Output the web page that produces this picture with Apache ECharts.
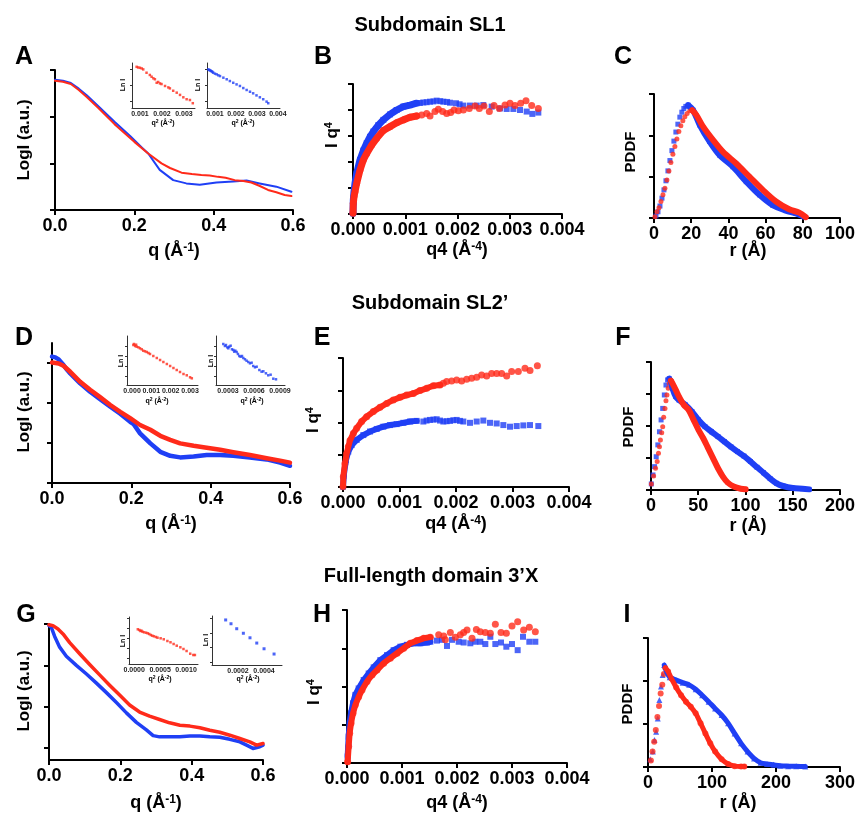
<!DOCTYPE html>
<html><head><meta charset="utf-8">
<script src="https://cdn.jsdelivr.net/npm/echarts@6/dist/echarts.min.js"></script>
<style>html,body{margin:0;padding:0;background:#fff}#c{width:858px;height:814px}</style>
</head><body><div id="c"></div>
<script>
// ---------- Panel A (SL1 scattering curves) ----------
const aRed = [[0,2.77],[0.02,2.75],[0.04,2.70],[0.06,2.57],[0.08,2.42],[0.11,2.18],[0.15,1.84],[0.20,1.46],[0.235,1.21],[0.2685,1.00],[0.29,0.90],[0.319,0.80],[0.345,0.77],[0.369,0.75],[0.39,0.74],[0.411,0.71],[0.43,0.69],[0.453,0.64],[0.475,0.62],[0.495,0.59],[0.515,0.52],[0.537,0.43],[0.558,0.38],[0.579,0.32],[0.596,0.30]];
const aBlue = [[0,2.79],[0.02,2.77],[0.04,2.72],[0.06,2.60],[0.08,2.46],[0.11,2.22],[0.15,1.89],[0.19,1.58],[0.22,1.33],[0.235,1.21],[0.264,0.86],[0.298,0.64],[0.331,0.57],[0.365,0.54],[0.407,0.59],[0.449,0.61],[0.483,0.63],[0.516,0.57],[0.558,0.50],[0.596,0.39]];
const aInsetRed = [[0.00085,2.14],[0.00092,2.10],[0.00100,2.08],[0.00108,2.04],[0.00115,1.98],[0.00130,1.77],[0.00145,1.63],[0.00153,1.52],[0.00161,1.42],[0.00168,1.36],[0.00176,1.14],[0.00183,1.19],[0.00191,1.10],[0.00198,1.06],[0.00214,0.94],[0.00229,0.85],[0.00236,0.79],[0.00251,0.64],[0.00267,0.52],[0.00282,0.38],[0.00297,0.23],[0.00312,0.11],[0.00327,0.06],[0.00340,-0.14]];
const aInsetBlue = [[0.00068,1.98],[0.00072,1.95],[0.00076,1.92],[0.0008,1.89],[0.00084,1.86],[0.00088,1.82],[0.00092,1.77],[0.001,1.71],[0.00108,1.67],[0.00116,1.61],[0.00124,1.56],[0.0014,1.46],[0.00156,1.36],[0.00171,1.25],[0.00187,1.14],[0.00203,1.04],[0.00219,0.94],[0.00235,0.81],[0.00251,0.69],[0.00267,0.58],[0.00282,0.48],[0.00298,0.35],[0.00314,0.23],[0.0033,0.11],[0.00346,-0.04],[0.00354,-0.14]];

// ---------- Panel B (SL1 Porod) ----------
const bBlueDense = [[0,0.03],[0.000006,0.54],[0.000019,0.86],[0.000038,1.18],[0.00007,1.56],[0.000134,2.08],[0.000198,2.44],[0.000262,2.72],[0.000325,2.97],[0.000389,3.17],[0.000485,3.42],[0.000581,3.62],[0.000708,3.83],[0.000836,4.0],[0.000963,4.13],[0.001091,4.19],[0.001219,4.26]];
const bBlueSparse = [[0.00128,4.27],[0.001346,4.29],[0.00141,4.30],[0.001474,4.32],[0.00154,4.33],[0.001601,4.36],[0.00167,4.34],[0.001729,4.32],[0.0018,4.31],[0.001856,4.28],[0.001971,4.26],[0.00204,4.22],[0.002112,4.17],[0.002239,4.17],[0.002367,4.17],[0.002494,4.19],[0.002654,4.13],[0.002813,4.06],[0.002941,4.04],[0.003069,4.04],[0.003196,4.0],[0.003324,3.94],[0.003432,3.85],[0.003547,3.9]];
const bRedDense = [[0,0.03],[0.000006,0.41],[0.000019,0.67],[0.000038,0.86],[0.00007,1.18],[0.000134,1.69],[0.000198,2.08],[0.000262,2.33],[0.000357,2.65],[0.000453,2.91],[0.000581,3.21],[0.000708,3.36],[0.000836,3.51],[0.000963,3.62],[0.001091,3.72],[0.001219,3.77]];
const bRedSparse = [[0.001314,3.81],[0.00141,3.87],[0.001474,3.77],[0.001569,3.94],[0.001633,4.03],[0.001716,3.94],[0.001793,3.87],[0.001869,3.9],[0.001933,4.0],[0.002016,3.97],[0.002112,4.0],[0.002226,4.06],[0.002335,4.15],[0.002418,4.06],[0.002507,4.15],[0.002609,3.94],[0.002699,4.17],[0.002801,4.06],[0.002909,4.19],[0.003005,4.26],[0.0031,4.17],[0.003209,4.26],[0.003311,4.36],[0.00342,4.17],[0.003547,4.06]];

// ---------- Panel C (SL1 PDDF) ----------
const cBlueRise = [[1.07,0.05],[2.14,0.15],[3.21,0.29],[4.28,0.48],[5.35,0.68],[6.42,0.9],[7.49,1.14],[8.56,1.39],[9.63,1.63],[10.7,1.86],[11.76,2.08],[12.83,2.27],[13.9,2.44],[14.97,2.56],[16.04,2.65],[17.11,2.70]];
const cBlueFall = [[18.36,2.73],[21.0,2.61],[24.6,2.25],[29.9,1.85],[35.3,1.52],[42.4,1.24],[49.6,0.88],[56.7,0.56],[63.8,0.31],[70.9,0.18],[76.3,0.11],[80.7,0.03]];
const cRedRise = [[0.53,0.03],[1.6,0.15],[2.67,0.25],[3.74,0.40],[4.81,0.56],[5.88,0.72],[6.95,0.92],[8.02,1.14],[9.09,1.34],[10.16,1.54],[11.23,1.73],[12.3,1.91],[13.37,2.09],[14.44,2.23],[15.51,2.35],[16.58,2.45],[17.83,2.53],[19.25,2.60]];
const cRedFall = [[20.5,2.61],[22.8,2.49],[26.4,2.21],[31.7,1.89],[37.1,1.60],[44.2,1.32],[51.3,1.0],[58.5,0.68],[65.6,0.40],[72.7,0.21],[78.1,0.13],[81.6,0.02]];

// ---------- Panel D (SL2' scattering curves) ----------
const dBlue = [[0,3.16],[0.0084,3.14],[0.0168,3.09],[0.029,2.95],[0.038,2.83],[0.046,2.74],[0.071,2.49],[0.096,2.28],[0.122,2.09],[0.147,1.91],[0.172,1.73],[0.197,1.53],[0.206,1.47],[0.222,1.24],[0.248,0.99],[0.273,0.78],[0.298,0.68],[0.323,0.64],[0.357,0.66],[0.39,0.70],[0.424,0.70],[0.457,0.68],[0.499,0.64],[0.541,0.59],[0.575,0.51],[0.6,0.43]];
const dRed = [[0,3.01],[0.0168,2.99],[0.029,2.93],[0.046,2.78],[0.071,2.53],[0.096,2.33],[0.122,2.14],[0.147,1.95],[0.172,1.78],[0.197,1.62],[0.222,1.45],[0.248,1.33],[0.273,1.18],[0.298,1.08],[0.323,0.99],[0.357,0.93],[0.39,0.88],[0.424,0.83],[0.457,0.77],[0.499,0.70],[0.541,0.62],[0.575,0.56],[0.6,0.51]];
const dInsetRed = [[0.00007,3.1],[0.0001,3.2],[0.00016,3.0],[0.00021,3.13],[0.00024,2.93],[0.00033,2.87],[0.00041,2.77],[0.0005,2.67],[0.00058,2.53],[0.00067,2.47],[0.00076,2.4],[0.00085,2.3],[0.00093,2.2],[0.0011,2.0],[0.00128,1.8],[0.00145,1.6],[0.00162,1.4],[0.0018,1.2],[0.00197,1.0],[0.00214,0.8],[0.00231,0.6],[0.00248,0.4],[0.00266,0.2],[0.00283,0.07],[0.003,-0.13],[0.00309,-0.23]];
const dInsetBlue = [[0.000246,3.2],[0.000265,3.0],[0.000277,3.1],[0.000292,2.87],[0.000304,2.77],[0.000315,2.93],[0.000331,3.03],[0.000346,2.67],[0.000362,2.6],[0.000373,2.43],[0.000385,2.53],[0.0004,2.4],[0.000415,2.2],[0.000431,2.0],[0.000446,1.93],[0.000462,2.0],[0.000477,1.8],[0.000496,1.67],[0.000515,1.53],[0.000535,1.4],[0.000554,1.27],[0.000573,1.33],[0.000592,1.0],[0.000612,0.87],[0.000631,0.93],[0.000662,0.6],[0.000688,0.43],[0.000708,0.47],[0.000738,0.27],[0.000765,0.07],[0.000792,0.13],[0.000823,-0.27],[0.000854,-0.33]];

// ---------- Panel E (SL2' Porod) ----------
const eRedDense = [[0,0.01],[0.000006,0.32],[0.000035,0.73],[0.000065,1.04],[0.000094,1.25],[0.000124,1.44],[0.000183,1.66],[0.000242,1.82],[0.00033,2.03],[0.000419,2.18],[0.000537,2.34],[0.000655,2.47],[0.000773,2.59],[0.000891,2.70],[0.001009,2.78],[0.001127,2.85],[0.001245,2.90],[0.001363,2.99],[0.001481,3.06],[0.001599,3.14],[0.001717,3.16]];
const eRedSparse = [[0.001776,3.22],[0.001835,3.27],[0.001923,3.29],[0.002012,3.32],[0.0021,3.29],[0.002189,3.34],[0.002277,3.37],[0.002366,3.40],[0.002454,3.47],[0.002543,3.44],[0.002631,3.52],[0.00272,3.52],[0.002808,3.52],[0.002897,3.44],[0.002985,3.58],[0.003103,3.58],[0.003221,3.68],[0.00331,3.61],[0.00344,3.76]];
const eBlueDense = [[0,0.01],[0.000018,0.42],[0.000053,0.84],[0.000094,1.10],[0.000153,1.30],[0.000242,1.46],[0.00036,1.61],[0.000478,1.72],[0.000596,1.80],[0.000714,1.87],[0.000832,1.92],[0.00095,1.95],[0.001068,1.99],[0.001186,2.03],[0.001304,2.05]];
const eBlueSparse = [[0.001422,2.03],[0.00148,2.06],[0.00154,2.08],[0.0016,2.09],[0.001658,2.10],[0.001717,2.06],[0.001776,2.03],[0.001835,2.04],[0.001894,2.05],[0.001953,2.07],[0.002012,2.08],[0.00207,2.05],[0.00213,2.03],[0.002248,1.99],[0.002366,2.03],[0.002484,2.06],[0.002602,1.99],[0.00272,1.97],[0.002838,1.92],[0.002956,1.87],[0.003074,1.89],[0.003192,1.91],[0.00331,1.92],[0.003457,1.89]];

// ---------- Panel F (SL2' PDDF) ----------
const fBlueRise = [[0.34,0.19],[2.07,0.47],[3.79,0.73],[5.51,1.04],[7.23,1.41],[8.95,1.82],[10.67,2.19],[12.39,2.55],[14.11,2.97],[15.83,3.28],[17.55,3.44]];
const fBlueFall = [[19.28,3.48],[21.0,3.39],[22.72,3.18],[26.16,2.92],[29.6,2.81],[36.49,2.66],[43.37,2.45],[50.25,2.19],[57.14,1.98],[64.02,1.82],[70.91,1.67],[77.79,1.51],[84.67,1.35],[91.56,1.2],[98.44,1.06],[105.33,0.89],[112.21,0.71],[119.09,0.54],[125.98,0.36],[132.86,0.21],[139.75,0.125],[150.07,0.06],[160.4,0.04],[167.28,0.02]];
const fRedRise = [[0.34,0.19],[2.75,0.44],[4.82,0.68],[6.54,0.89],[7.92,1.15],[8.95,1.35],[9.98,1.56],[11.36,1.79],[12.39,1.98],[13.42,2.27],[14.8,2.55],[15.83,2.79],[16.87,2.97],[18.24,3.18],[19.28,3.33]];
const fRedFall = [[21.0,3.42],[22.72,3.33],[26.16,3.13],[29.6,2.92],[34.76,2.66],[39.93,2.5],[45.09,2.19],[50.25,1.88],[55.42,1.61],[60.58,1.3],[65.74,0.99],[70.91,0.68],[76.07,0.42],[81.23,0.23],[88.12,0.10],[95.0,0.04],[100.16,0.02]];

// ---------- Panel G (3'X scattering curves) ----------
const gRed = [[0,2.98],[0.0112,2.96],[0.0252,2.88],[0.0393,2.76],[0.058,2.55],[0.086,2.28],[0.114,2.02],[0.142,1.77],[0.17,1.52],[0.198,1.28],[0.226,1.04],[0.254,0.87],[0.282,0.77],[0.31,0.69],[0.338,0.61],[0.367,0.55],[0.395,0.53],[0.423,0.49],[0.451,0.43],[0.479,0.38],[0.507,0.31],[0.535,0.23],[0.563,0.15],[0.582,0.07],[0.6,0.11]];
const gBlue = [[0,2.96],[0.0065,2.92],[0.0159,2.70],[0.0299,2.44],[0.0486,2.22],[0.0767,2.00],[0.105,1.79],[0.133,1.57],[0.161,1.34],[0.189,1.10],[0.217,0.85],[0.245,0.62],[0.273,0.44],[0.292,0.30],[0.31,0.27],[0.338,0.27],[0.367,0.27],[0.395,0.29],[0.423,0.29],[0.451,0.27],[0.479,0.26],[0.507,0.21],[0.535,0.15],[0.554,0.07],[0.572,-0.01],[0.591,0.03],[0.6,0.07]];
const gInsetRed = [[0.00007,2.87],[0.0001,2.8],[0.00012,2.7],[0.00014,2.73],[0.00016,2.63],[0.00019,2.57],[0.00023,2.53],[0.00026,2.47],[0.00029,2.4],[0.00032,2.3],[0.00035,2.23],[0.00038,2.17],[0.00042,2.1],[0.00045,2.03],[0.00051,1.97],[0.00057,1.87],[0.00064,1.7],[0.0007,1.57],[0.00076,1.4],[0.00082,1.23],[0.00089,1.07],[0.00095,0.9],[0.00101,0.7],[0.00108,0.43],[0.00114,0.3],[0.00117,0.3]];
const gInsetBlue = [[0.000105,2.88],[0.000146,2.62],[0.00019,2.28],[0.000241,1.97],[0.000292,1.66],[0.000344,1.30],[0.0004,0.91],[0.000477,0.55]];

// ---------- Panel H (3'X Porod) ----------
const hRedDense = [[0.000012,0.03],[0.00003,0.43],[0.000048,0.78],[0.000073,1.04],[0.000109,1.30],[0.000152,1.52],[0.000212,1.73],[0.000273,1.91],[0.000364,2.13],[0.000455,2.30],[0.000545,2.43],[0.000667,2.61],[0.000788,2.74],[0.000909,2.87],[0.00103,3.0],[0.001152,3.13],[0.001273,3.20],[0.001394,3.26],[0.001515,3.29]];
const hRedSparse = [[0.001667,3.35],[0.001758,3.32],[0.001788,3.22],[0.001879,3.41],[0.00197,3.29],[0.00206,3.35],[0.002121,3.41],[0.002182,3.48],[0.002273,3.26],[0.002352,3.49],[0.002424,3.43],[0.002515,3.41],[0.002606,3.39],[0.002697,3.63],[0.0028,3.41],[0.002897,3.39],[0.003,3.58],[0.003103,3.69],[0.003212,3.48],[0.003315,3.55],[0.003424,3.43]];
const hBlueDense = [[0.000012,0.17],[0.00003,0.69],[0.000048,1.04],[0.000073,1.30],[0.000109,1.56],[0.000152,1.78],[0.000212,1.95],[0.000303,2.17],[0.000394,2.34],[0.000485,2.50],[0.000606,2.69],[0.000727,2.82],[0.000848,2.95],[0.00097,3.04],[0.001091,3.09],[0.001212,3.13],[0.001333,3.13],[0.001455,3.15],[0.001515,3.17]];
const hBlueSparse = [[0.001636,3.2],[0.001727,3.22],[0.001818,3.06],[0.001909,3.22],[0.00203,3.17],[0.002121,3.15],[0.002242,3.13],[0.002333,3.17],[0.002424,3.17],[0.002515,3.11],[0.002606,3.3],[0.002697,3.11],[0.0028,3.15],[0.002897,3.04],[0.003,3.11],[0.003103,2.95],[0.0032,3.3],[0.003315,3.17],[0.003424,3.17]];

// ---------- Panel I (3'X PDDF) ----------
const iBlueRise = [[3.55,0.18],[7.6,0.36],[10.14,0.63],[12.67,0.82],[15.2,1.13],[17.74,1.56],[20.27,1.87],[22.81,2.14]];
const iBlueFall = [[25.34,2.37],[28.89,2.22],[33.96,2.09],[44.09,2.02],[54.23,1.96],[64.36,1.91],[74.5,1.81],[84.64,1.67],[94.77,1.52],[104.9,1.36],[115.04,1.21],[125.18,1.02],[135.32,0.78],[145.45,0.55],[155.59,0.36],[165.72,0.2],[175.86,0.1],[186.0,0.07],[196.13,0.05],[206.27,0.03],[218.94,0.02],[231.6,0.015],[245.8,0.01]];
const iRedRise = [[4.56,0.15],[7.1,0.36],[9.63,0.59],[12.16,0.86],[14.7,1.16],[17.23,1.42],[19.77,1.71],[22.3,1.91],[24.83,2.16]];
const iRedFall = [[26.86,2.31],[31.42,2.22],[36.49,2.06],[44.09,1.85],[51.69,1.67],[59.3,1.52],[66.9,1.40],[74.5,1.25],[82.1,1.02],[89.7,0.78],[97.31,0.55],[104.9,0.36],[115.04,0.18],[125.18,0.07],[135.32,0.02],[145.45,0.01],[150.52,0.01]];

const RED = '#ff2a1a', BLUE = '#1f3ff5';
const FONT = '"Liberation Sans", Arial, Helvetica, sans-serif';
const grid = [], xAxis = [], yAxis = [], series = [], graphic = [];

function addPanel(rect, xa, ya) {
  const i = grid.length;
  grid.push(Object.assign({ containLabel: false }, rect));
  xAxis.push(Object.assign({ gridIndex: i, type: 'value' }, xa));
  yAxis.push(Object.assign({ gridIndex: i, type: 'value' }, ya));
  return i;
}
const mainLine = { show: true, onZero: false, lineStyle: { color: '#000', width: 2 } };
function mainX(min, max, interval, dec) {
  return { min, max, interval, axisLine: mainLine,
    axisTick: { show: true, length: 5, lineStyle: { width: 2, color: '#000' } },
    axisLabel: { show: true, formatter: v => v.toFixed(dec), fontSize: 18, fontWeight: 'bold', color: '#000', fontFamily: FONT, margin: 7, showMinLabel: true, showMaxLabel: true, interval: 0, hideOverlap: false },
    splitLine: { show: false } };
}
function mainY(min, max, ticks) {
  return { min, max, axisLine: mainLine,
    axisTick: { show: true, length: 5, customValues: ticks, lineStyle: { width: 2, color: '#000' } },
    axisLabel: { show: false }, splitLine: { show: false } };
}
const insetLine = { show: true, onZero: false, lineStyle: { color: '#333', width: 1 } };
function insetX(min, max, labels, dec) {
  return { min, max, axisLine: insetLine, axisTick: { show: false },
    axisLabel: { customValues: labels, formatter: v => v.toFixed(dec), fontSize: 7, fontWeight: 'bold', color: '#222', margin: 3, fontFamily: FONT },
    splitLine: { show: false } };
}
function insetY(min, max, ticks) {
  return { min, max, axisLine: insetLine,
    axisTick: { show: true, length: 2, customValues: ticks, lineStyle: { color: '#333', width: 1 } },
    axisLabel: { show: false }, splitLine: { show: false } };
}
function band(i, data, color, width, smooth) {
  series.push({ type: 'line', xAxisIndex: i, yAxisIndex: i, data, symbol: 'none', smooth: smooth || false,
    lineStyle: { color, width, cap: 'round', join: 'round' }, silent: true });
}
function dots(i, data, color, symbol, size) {
  series.push({ type: 'scatter', xAxisIndex: i, yAxisIndex: i, data, symbol, symbolSize: size, itemStyle: { color }, silent: true });
}

// Main panels
const pA = addPanel({ left: 55, top: 70, width: 238, height: 140 }, mainX(0, 0.6, 0.2, 1), mainY(0, 3, [0, 1, 2, 3]));
const pB = addPanel({ left: 353, top: 84, width: 209, height: 130 }, mainX(0, 0.004, 0.001, 3), mainY(0, 5, [0, 1, 2, 3, 4, 5]));
const pC = addPanel({ left: 654, top: 94, width: 187, height: 124 }, mainX(0, 100, 20, 0), mainY(0, 3, [0, 1, 2, 3]));
const pD = addPanel({ left: 52, top: 343, width: 238, height: 140 }, mainX(0, 0.6, 0.2, 1), mainY(0, 3.5, [0, 1, 2, 3]));
const pE = addPanel({ left: 343, top: 358, width: 226, height: 129 }, mainX(0, 0.004, 0.001, 3), mainY(0, 4, [0, 1, 2, 3, 4]));
const pF = addPanel({ left: 651, top: 362, width: 194, height: 128 }, mainX(0, 200, 50, 0), mainY(0, 4, [0, 1, 2, 3, 4]));
const pG = addPanel({ left: 49, top: 624, width: 214, height: 136 }, mainX(0, 0.6, 0.2, 1), mainY(-0.29, 3, [0, 1, 2, 3]));
const pH = addPanel({ left: 347, top: 610, width: 220, height: 153 }, mainX(0, 0.004, 0.001, 3), mainY(0, 4, [0, 1, 2, 3, 4]));
const pI = addPanel({ left: 648, top: 638, width: 197, height: 129 }, mainX(0, 300, 100, 0), mainY(0, 3, [0, 1, 2, 3]));
// Insets
const iA1 = addPanel({ left: 132, top: 63, width: 63, height: 45 }, insetX(0.00064, 0.0035, [0.001, 0.002, 0.003], 3), insetY(-0.44, 2.38, [0, 1, 2]));
const iA2 = addPanel({ left: 207, top: 63, width: 73, height: 45 }, insetX(0.00062, 0.0041, [0.001, 0.002, 0.003, 0.004], 3), insetY(-0.44, 2.38, [0, 1, 2]));
const iD1 = addPanel({ left: 127, top: 336, width: 71, height: 49 }, insetX(-0.00026, 0.00341, [0, 0.001, 0.002, 0.003], 3), insetY(-0.9, 4, [0, 1, 2, 3]));
const iD2 = addPanel({ left: 216, top: 336, width: 69, height: 49 }, insetX(0.000162, 0.000958, [0.0003, 0.0006, 0.0009], 4), insetY(-0.9, 4, [0, 1, 2, 3]));
const iG1 = addPanel({ left: 129, top: 617, width: 69, height: 47 }, insetX(-0.0001, 0.00123, [0, 0.0005, 0.001], 4), insetY(-0.6, 4.1, [0, 1, 2, 3, 4]));
const iG2 = addPanel({ left: 212, top: 616, width: 70, height: 49 }, insetX(0, 0.000538, [0.0002, 0.0004], 4), insetY(-0.2, 3.15, [0, 1, 2, 3]));

// Series
band(pA, aBlue, BLUE, 2); band(pA, aRed, RED, 2);
dots(iA1, aInsetRed, RED, 'rect', 2.5); dots(iA2, aInsetBlue, BLUE, 'rect', 2.5);

band(pB, bBlueDense, BLUE, 7); dots(pB, bBlueDense.concat(bBlueSparse), BLUE, 'rect', 6);
band(pB, bRedDense, RED, 7); dots(pB, bRedDense.concat(bRedSparse), RED, 'circle', 7);

dots(pC, cBlueRise, BLUE, 'rect', 5); band(pC, cBlueFall, BLUE, 6, 0.3); dots(pC, cBlueFall, BLUE, 'rect', 5);
dots(pC, cRedRise, RED, 'circle', 5); band(pC, cRedFall, RED, 6, 0.3); dots(pC, cRedFall, RED, 'circle', 5);

band(pD, dBlue, BLUE, 4.5); band(pD, dRed, RED, 4.5);
dots(iD1, dInsetRed, RED, 'rect', 2.5); dots(iD2, dInsetBlue, BLUE, 'rect', 2.5);

band(pE, eBlueDense, BLUE, 6); dots(pE, eBlueDense.concat(eBlueSparse), BLUE, 'rect', 6);
band(pE, eRedDense, RED, 6); dots(pE, eRedDense.concat(eRedSparse), RED, 'circle', 7);

dots(pF, fBlueRise, BLUE, 'rect', 5); band(pF, fBlueFall, BLUE, 6, 0.3); dots(pF, fBlueFall, BLUE, 'rect', 5);
dots(pF, fRedRise, RED, 'circle', 5); band(pF, fRedFall, RED, 6, 0.3); dots(pF, fRedFall, RED, 'circle', 5);

band(pG, gBlue, BLUE, 3.5); band(pG, gRed, RED, 3.5);
dots(iG1, gInsetRed, RED, 'rect', 2.5); dots(iG2, gInsetBlue, BLUE, 'rect', 3);

band(pH, hBlueDense, BLUE, 6); dots(pH, hBlueDense.concat(hBlueSparse), BLUE, 'rect', 6);
band(pH, hRedDense, RED, 6); dots(pH, hRedDense.concat(hRedSparse), RED, 'circle', 7);

dots(pI, iBlueRise, BLUE, 'triangle', 6); band(pI, iBlueFall, BLUE, 5, 0.3); dots(pI, iBlueFall, BLUE, 'triangle', 6);
dots(pI, iRedRise, RED, 'circle', 6); band(pI, iRedFall, RED, 5, 0.3); dots(pI, iRedFall, RED, 'circle', 6);

// Texts
function txt(x, y, text, size, rot) {
  const st = { text, fontSize: size, fontWeight: 'bold', fontFamily: FONT, fill: '#000', align: 'center', verticalAlign: 'middle',
    rich: { s: { fontSize: Math.round(size * 0.65), fontWeight: 'bold', fontFamily: FONT, fill: '#000', verticalAlign: 'top' } } };
  graphic.push({ type: 'text', x, y, rotation: rot || 0, style: st, silent: true });
}
const R = Math.PI / 2;
txt(430, 25, 'Subdomain SL1', 20);
txt(430, 303, 'Subdomain SL2\u2019', 20);
txt(431, 576, 'Full-length domain 3\u2019X', 20);
[['A', 24, 57], ['B', 323, 57], ['C', 623, 57], ['D', 24, 338], ['E', 322, 338], ['F', 623, 338], ['G', 26, 615], ['H', 322, 615], ['I', 627, 615]]
  .forEach(([t, x, y]) => txt(x, y, t, 25));
// axis names
txt(24, 140, 'LogI (a.u.)', 17, R); txt(174, 251, 'q (\u00c5{s|-1})', 18);
txt(332, 135, 'I q{s|4}', 17, R); txt(457, 250, 'q4 (\u00c5{s|-4})', 18);
txt(631, 152, 'PDDF', 15, R); txt(748, 251, 'r (\u00c5)', 18);
txt(24, 412, 'LogI (a.u.)', 17, R); txt(171, 524, 'q (\u00c5{s|-1})', 18);
txt(313, 420, 'I q{s|4}', 17, R); txt(456, 524, 'q4 (\u00c5{s|-4})', 18);
txt(629, 427, 'PDDF', 15, R); txt(748, 526, 'r (\u00c5)', 18);
txt(24, 691, 'LogI (a.u.)', 17, R); txt(156, 803, 'q (\u00c5{s|-1})', 18);
txt(314, 692, 'I q{s|4}', 17, R); txt(457, 803, 'q4 (\u00c5{s|-4})', 18);
txt(628, 704, 'PDDF', 15, R); txt(738, 803, 'r (\u00c5)', 18);
// inset names
[[163, 123], [243, 123], [157, 401], [252, 401], [160, 679], [248, 679]].forEach(([x, y]) => txt(x, y, 'q{s|2} (\u00c5{s|-2})', 7));
[[123, 85], [198, 85], [121, 361], [211, 361], [123, 641], [206, 640]].forEach(([x, y]) => txt(x, y, 'Ln I', 7, R));

const chart = echarts.init(document.getElementById('c'), null, { renderer: 'canvas' });
chart.setOption({ animation: false, backgroundColor: '#fff', grid, xAxis, yAxis, series, graphic });
</script></body></html>
